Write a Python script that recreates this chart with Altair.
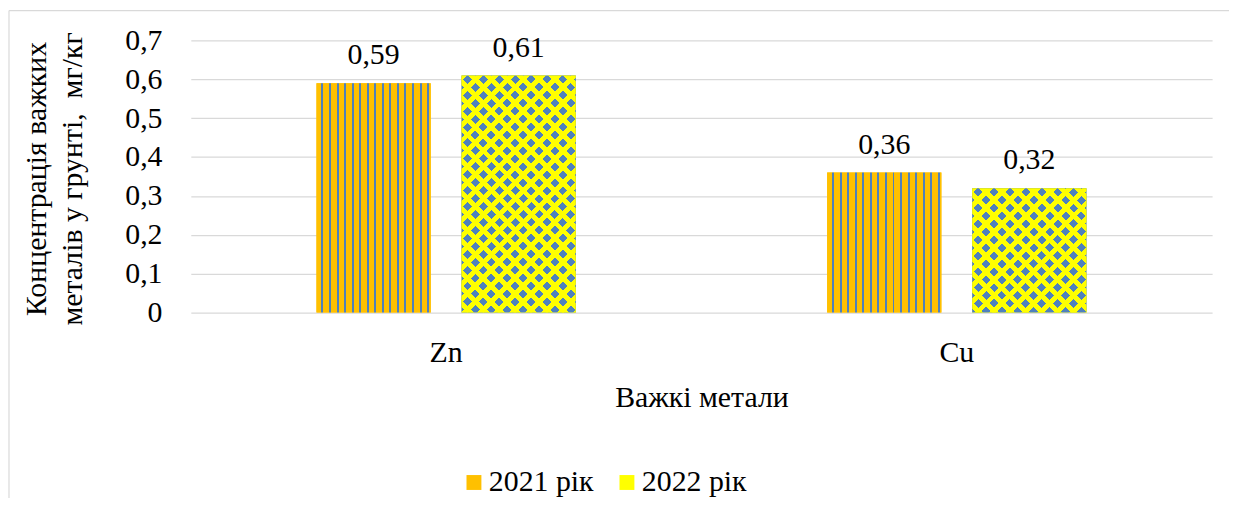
import altair as alt
import pandas as pd

# ---------------- data ----------------
metals = ["Zn", "Cu"]
years = ["2021 рік", "2022 рік"]
values_2021 = [0.59, 0.36]
values_2022 = [0.61, 0.32]
y_ticks = [0, 0.1, 0.2, 0.3, 0.4, 0.5, 0.6, 0.7]

x_title = "Важкі метали"
y_title = ["Концентрація важких", "металів у грунті,\u00a0 мг/кг"]

rows = []
for i, m in enumerate(metals):
    rows.append({"metal": m, "year": years[0], "value": values_2021[i]})
    rows.append({"metal": m, "year": years[1], "value": values_2022[i]})
df = pd.DataFrame(rows)
df["label"] = df["value"].map(lambda v: f"{v:.2f}".replace(".", ","))

# ---------------- style ----------------
FONT = "Liberation Serif"
FS = 30
ORANGE = "#FFC000"
YELLOW = "#FFFF00"
BLUE = "#4F81BD"
CLEAR = "rgba(255,255,0,0)"
GRID = "#D9D9D9"

PLOT_W, PLOT_H = 1028, 274
Y_MAX = 0.7
PAD_IN, PAD_OUT = 0.2123, 0.8664
step = (PLOT_W / len(metals)) / (len(years) - PAD_IN + 2 * PAD_OUT)
BAR_W = step * (1 - PAD_IN)


def stripes_gradient():
    period, first, thick = 7.6, 5.0, 2.0
    stops = []
    pos = 0.0
    k = 0
    while first + k * period < BAR_W:
        s = first + k * period
        e = min(s + thick, BAR_W)
        stops += [(pos, ORANGE), (s, ORANGE), (s, BLUE), (e, BLUE)]
        pos = e
        k += 1
    stops += [(pos, ORANGE), (BAR_W, ORANGE)]
    return alt.LinearGradient(
        gradient="linear", x1=0, y1=0, x2=1, y2=0,
        stops=[alt.GradientStop(offset=o / BAR_W, color=c) for o, c in stops],
    )


def diag_gradient(w, h, kind, phase, period=16.0, band=9.0):
    L = w + h
    a = L / (w * w + h * h)
    if kind == 1:
        x1, y1, x2, y2 = 0, 0, a * w, a * h
    else:
        x1, y1, x2, y2 = 0, 1, a * w, 1 - a * h
    intervals = []
    k = -2
    while True:
        c = phase + k * period
        if c - band / 2 > L:
            break
        s, e = max(0.0, c - band / 2), min(L, c + band / 2)
        if e > s:
            intervals.append((s, e))
        k += 1
    stops = []
    pos = 0.0
    for s, e in intervals:
        if s > pos:
            stops += [(pos, YELLOW), (s, YELLOW)]
        stops += [(s, CLEAR), (e, CLEAR)]
        pos = e
    if pos < L:
        stops += [(pos, YELLOW), (L, YELLOW)]
    return alt.LinearGradient(
        gradient="linear", x1=x1, y1=y1, x2=x2, y2=y2,
        stops=[alt.GradientStop(offset=o / L, color=c) for o, c in stops],
    )


# ---------------- encodings ----------------
x_enc = alt.X(
    "metal:N", sort=metals,
    scale=alt.Scale(paddingInner=0, paddingOuter=0),
    axis=alt.Axis(
        title=x_title, labelAngle=0, labelPadding=49, labelBaseline="alphabetic",
        grid=False, domain=False, ticks=False, tickSize=0,
        titleY=95, titleBaseline="alphabetic",
    ),
)
xo_enc = alt.XOffset(
    "year:N", sort=years,
    scale=alt.Scale(paddingInner=PAD_IN, paddingOuter=PAD_OUT),
)
y_enc = alt.Y(
    "value:Q",
    scale=alt.Scale(domain=[0, Y_MAX], nice=False),
    axis=alt.Axis(
        title=y_title, values=y_ticks, grid=True, domain=False, ticks=False, tickSize=0,
        labelPadding=29,
        labelExpr="datum.value == 0 ? '0' : replace(format(datum.value, '.1f'), '.', ',')",
        titleAngle=270, titleAlign="center", titleBaseline="alphabetic",
        titleX=-146, titleY=139, titleLineHeight=36,
    ),
)

base = alt.Chart(df).mark_bar().encode(
    x=x_enc, xOffset=xo_enc, y=y_enc,
    color=alt.Color(
        "year:N", sort=years,
        scale=alt.Scale(domain=years, range=[ORANGE, YELLOW]),
        legend=alt.Legend(
            title=None, orient="none", legendX=270, legendY=430,
            direction="horizontal", symbolType="square", symbolSize=225,
            symbolStrokeWidth=0, labelFont=FONT, labelFontSize=FS,
            labelColor="black", labelOffset=0, columnPadding=18, padding=0,
            labelLimit=300,
        ),
    ),
)

layers = [base]

# 2021: vertical orange / blue stripes
layers.append(
    alt.Chart(df).transform_filter(alt.datum.year == years[0])
    .mark_bar(color=stripes_gradient())
    .encode(x=x_enc, xOffset=xo_enc, y=y_enc)
)

# 2022: blue diamonds on yellow
for i, m in enumerate(metals):
    h = values_2022[i] / Y_MAX * PLOT_H
    sel = (alt.datum.year == years[1]) & (alt.datum.metal == m)
    layers.append(
        alt.Chart(df).transform_filter(sel).mark_bar(color=BLUE)
        .encode(x=x_enc, xOffset=xo_enc, y=y_enc)
    )
    layers.append(
        alt.Chart(df).transform_filter(sel)
        .mark_bar(color=diag_gradient(BAR_W, h, 1, 10.0))
        .encode(x=x_enc, xOffset=xo_enc, y=y_enc)
    )
    layers.append(
        alt.Chart(df).transform_filter(sel)
        .mark_bar(color=diag_gradient(BAR_W, h, 2, (2.0 + h) % 16))
        .encode(x=x_enc, xOffset=xo_enc, y=y_enc)
    )

labels = alt.Chart(df).mark_text(
    dy=-19, baseline="alphabetic", align="center", font=FONT, fontSize=FS, color="black"
).encode(x=x_enc, xOffset=xo_enc, y=y_enc, text="label:N")
layers.append(labels)

# chart-area border (left and top edges)
frame = pd.DataFrame({"k": [0]})
layers.append(
    alt.Chart(frame).mark_rule(color=GRID, strokeWidth=1.2)
    .encode(x=alt.value(-183), y=alt.value(-30), y2=alt.value(470))
)
layers.append(
    alt.Chart(frame).mark_rule(color=GRID, strokeWidth=1.2)
    .encode(x=alt.value(-183), x2=alt.value(1060), y=alt.value(-30))
)

chart = (
    alt.layer(*layers)
    .properties(
        width=PLOT_W, height=PLOT_H,
        autosize=alt.AutoSizeParams(type="none"),
        padding={"left": 184, "top": 31, "right": 17, "bottom": 185},
        background="white",
    )
    .configure_view(stroke=None)
    .configure_axis(
        labelFont=FONT, titleFont=FONT, labelFontSize=FS, titleFontSize=FS,
        labelColor="black", titleColor="black", titleFontWeight="normal",
        gridColor=GRID, gridWidth=1.3,
    )
)

chart.save("out.html", embed_options={"renderer": "svg", "actions": False})
